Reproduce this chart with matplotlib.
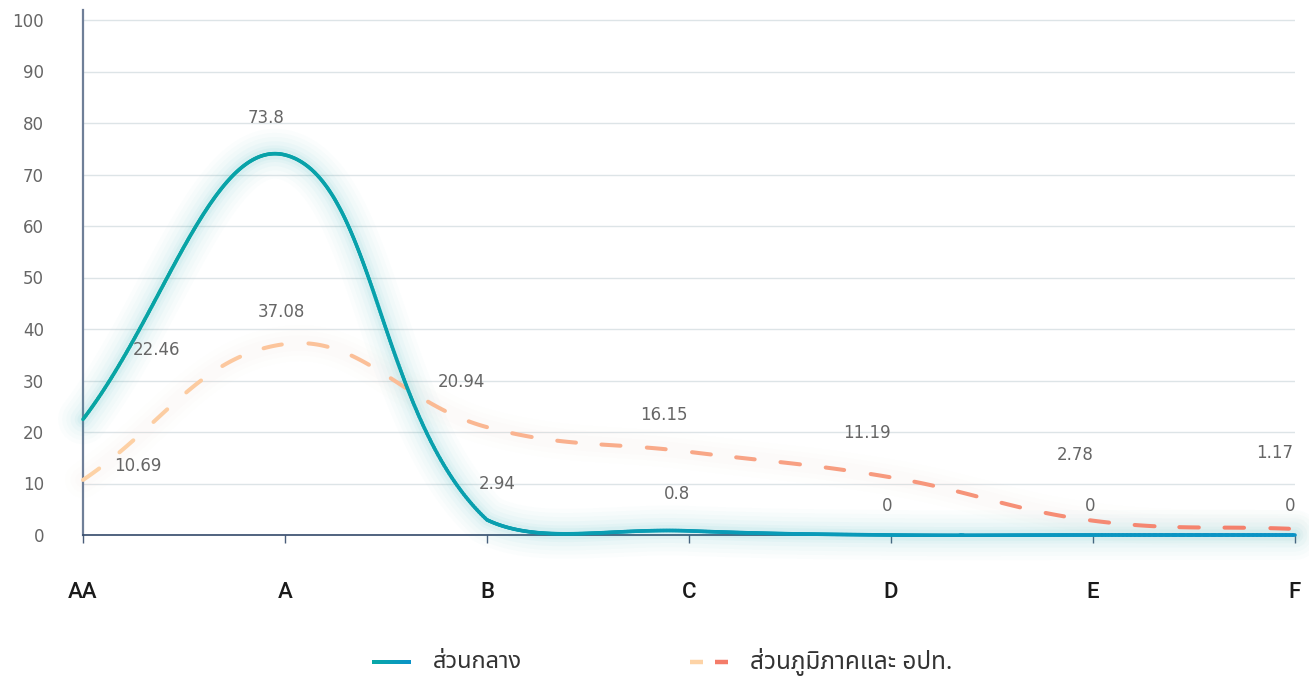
import numpy as np
import matplotlib
matplotlib.use('Agg')
import matplotlib.pyplot as plt
from matplotlib.collections import LineCollection
from matplotlib.lines import Line2D
from matplotlib.patches import Rectangle
from matplotlib.transforms import Bbox
from matplotlib import font_manager as fm
from matplotlib.ft2font import FT2Font

# ---------------- data ----------------
categories = ['AA', 'A', 'B', 'C', 'D', 'E', 'F']
central = [22.46, 73.8, 2.94, 0.8, 0, 0, 0]
regional = [10.69, 37.08, 20.94, 16.15, 11.19, 2.78, 1.17]
series_names = ['ส่วนกลาง', 'ส่วนภูมิภาคและ อปท.']
y_ticks = [0, 10, 20, 30, 40, 50, 60, 70, 80, 90, 100]

# label placement (pixel offsets of label centre from its point)
central_label_off = [(73, 69), (-19, 37), (10, 36), (-12, 37), (-4, 29), (-3, 29), (-5, 29)]
regional_label_off = [(55, 14), (-4, 32), (-26, 45), (-25, 37), (-24, 44), (-18, 66), (-20, 76)]


# ---------------- fonts ----------------
def find_thai_family():
    found = []
    for path in fm.findSystemFonts():
        try:
            f = FT2Font(path)
            if 0x0E2A in f.get_charmap():
                found.append(f.family_name)
        except Exception:
            pass
    pref = ['Noto Sans Thai', 'Noto Sans Thai UI', 'Sarabun', 'Noto Sans Thai Looped',
            'Loma', 'Garuda', 'Tlwg Typo', 'Norasi', 'DejaVu Sans']
    for p in pref:
        if p in found:
            return p
    return found[0] if found else 'DejaVu Sans'


thai_family = find_thai_family()

W, H = 1309, 676
fig = plt.figure(figsize=(W / 100, H / 100), dpi=100)


def px_rect(l, t, r, b):
    return [l / W, 1 - b / H, (r - l) / W, (b - t) / H]


AX_L, AX_T, AX_R, AX_B = 83, 9.7, 1295, 535
ax = fig.add_axes(px_rect(AX_L, AX_T, AX_R, AX_B))
xs = np.arange(len(categories))
ax.set_xlim(0, len(categories) - 1)
ax.set_ylim(0, 102)

# axes styling
for s in ['top', 'right']:
    ax.spines[s].set_visible(False)
ax.spines['left'].set_color('#6f7f98')
ax.spines['left'].set_linewidth(1.6)
ax.spines['bottom'].set_color('#34496a')
ax.spines['bottom'].set_linewidth(1.2)
ax.set_yticks(y_ticks)
ax.set_yticklabels([str(v) for v in y_ticks])
ax.set_xticks(xs)
ax.set_xticklabels(categories)
ax.grid(axis='y', color='#dde4e7', linewidth=1.0)
ax.set_axisbelow(True)
ax.tick_params(axis='y', length=0, pad=28, labelsize=12, labelcolor='#666666')
ax.tick_params(axis='x', length=5.8, width=1, color='#4a5d7a', direction='out',
               pad=28, labelsize=16, labelcolor='#1a1a1a')
for lbl in ax.get_xticklabels():
    lbl.set_family(['Roboto', 'DejaVu Sans'])
    lbl.set_fontweight('medium')

fig.canvas.draw()

# clip boxes in display pixels (display y measured from bottom)
line_clip = Bbox([[AX_L - 20, H - AX_B - 2.0], [AX_R + 20, H]])
glow_clip = Bbox([[0, H - AX_B - 30], [W, H]])
cap_lo = H - 545.0   # lowest allowed control point (display)
cap_hi = H - AX_T


# ---------------- smoothing (tension spline, capped control points) ----------------
def smooth_curve(pts, t=0.4, nseg=160):
    pts = np.asarray(pts, float)
    n = len(pts)
    cp_prev, cp_next = [], []
    for i in range(n):
        cur = pts[i]
        prev = pts[i - 1] if i > 0 else cur
        nxt = pts[i + 1] if i < n - 1 else cur
        d01 = np.hypot(*(cur - prev))
        d12 = np.hypot(*(nxt - cur))
        s01 = d01 / (d01 + d12)
        s12 = d12 / (d01 + d12)
        a = cur - t * s01 * (nxt - prev)
        b = cur + t * s12 * (nxt - prev)
        a[1] = np.clip(a[1], cap_lo, cap_hi)
        b[1] = np.clip(b[1], cap_lo, cap_hi)
        cp_prev.append(a)
        cp_next.append(b)
    out = [pts[0:1]]
    tt = np.linspace(0, 1, nseg)[1:, None]
    for i in range(n - 1):
        p0, p1, p2, p3 = pts[i], cp_next[i], cp_prev[i + 1], pts[i + 1]
        seg = (1 - tt) ** 3 * p0 + 3 * (1 - tt) ** 2 * tt * p1 + 3 * (1 - tt) * tt ** 2 * p2 + tt ** 3 * p3
        out.append(seg)
    return np.vstack(out)


def curve_data(values):
    disp = ax.transData.transform(np.column_stack([xs, values]))
    d = smooth_curve(disp)
    return d, ax.transData.inverted().transform(d)


def lerp_color(c0, c1, f):
    c0 = np.array(matplotlib.colors.to_rgb(c0))
    c1 = np.array(matplotlib.colors.to_rgb(c1))
    return tuple(c0 + (c1 - c0) * f)


# ---------------- central (solid, teal glow) ----------------
c_disp, c_data = curve_data(central)
for w, a in [(36, 0.016), (30, 0.02), (24, 0.025), (18, 0.03), (12, 0.04), (8, 0.05)]:
    gl, = ax.plot(c_data[:, 0], c_data[:, 1], color='#2ab5ba', lw=w, alpha=a,
                  solid_capstyle='round', solid_joinstyle='round', zorder=3)
    gl.set_clip_box(glow_clip)
segs = np.stack([c_data[:-1], c_data[1:]], axis=1)
fr = (segs[:, 0, 0] + segs[:, 1, 0]) / 2 / (len(categories) - 1)
cols = [lerp_color('#08a5a3', '#0a93c6', f) for f in fr]
lc = LineCollection(segs, colors=cols, linewidths=2.6, capstyle='round', joinstyle='round',
                    zorder=5)
ax.add_collection(lc)
lc.set_clip_box(line_clip)

# ---------------- regional (dashed gradient) ----------------
r_disp, r_data = curve_data(regional)
for w, a in [(26, 0.012), (18, 0.015), (11, 0.02)]:
    gl, = ax.plot(r_data[:, 0], r_data[:, 1], color='#fbb89a', lw=w, alpha=a,
                  solid_capstyle='round', zorder=2)
    gl.set_clip_box(glow_clip)
seglen = np.hypot(*np.diff(r_disp, axis=0).T)
arc = np.concatenate([[0], np.cumsum(seglen)])
period, dash = 45.0, 20.5
start = 0.0
while start < arc[-1]:
    end = min(start + dash, arc[-1])
    m = (arc >= start) & (arc <= end)
    if m.sum() >= 2:
        p = r_data[m]
        f = p[:, 0].mean() / (len(categories) - 1)
        dl, = ax.plot(p[:, 0], p[:, 1], color=lerp_color('#fdd3a6', '#f47c69', f), lw=2.9,
                      solid_capstyle='round', zorder=4)
        dl.set_clip_box(line_clip)
    start += period

# ---------------- value labels ----------------
for vals, offs in [(central, central_label_off), (regional, regional_label_off)]:
    for xi, v, (dx, dy) in zip(xs, vals, offs):
        ax.annotate(f'{v:g}', (xi, v), xytext=(dx, dy), textcoords='offset pixels',
                    ha='center', va='center', fontsize=12, color='#666666', zorder=6,
                    annotation_clip=False)

# ---------------- legend (manual) ----------------
ly_px = 662
ly = 1 - ly_px / H
x0, x1 = 372, 411
for i in range(x1 - x0):
    fig.patches.append(Rectangle(((x0 + i) / W, 1 - (ly_px + 2.2) / H), 1.05 / W, 4.4 / H,
                                 transform=fig.transFigure, linewidth=0,
                                 facecolor=lerp_color('#08a8a6', '#0a93c8', i / (x1 - x0 - 1)),
                                 figure=fig))
fig.text(433 / W, ly, series_names[0], ha='left', va='center', fontsize=17,
         color='#333333', family=[thai_family, 'DejaVu Sans'])
fig.add_artist(Line2D([690 / W, 703 / W], [ly, ly], color='#fdd3a6', lw=3.2,
                      solid_capstyle='butt', transform=fig.transFigure))
fig.add_artist(Line2D([715 / W, 728 / W], [ly, ly], color='#f47c69', lw=3.2,
                      solid_capstyle='butt', transform=fig.transFigure))
fig.text(750 / W, ly, series_names[1], ha='left', va='center', fontsize=17.5,
         color='#333333', family=[thai_family, 'DejaVu Sans'])

fig.savefig('out.png', dpi=100)
